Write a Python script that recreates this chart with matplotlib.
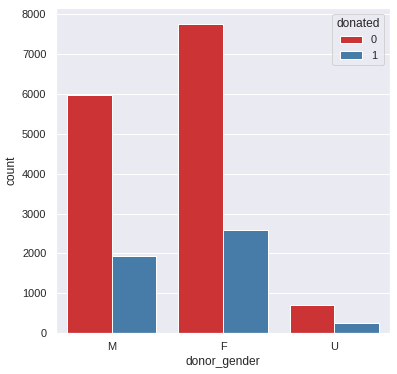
import matplotlib
matplotlib.use("Agg")
import matplotlib.pyplot as plt
import seaborn as sns
import pandas as pd

genders = ["M", "F", "U"]
count_not_donated = [5975, 7765, 705]
count_donated = [1935, 2590, 252]

df = pd.DataFrame({
    "donor_gender": genders * 2,
    "donated": ["0"] * 3 + ["1"] * 3,
    "count": count_not_donated + count_donated,
})

sns.set_theme(style="darkgrid")
plt.rcParams["font.family"] = ["Liberation Sans", "DejaVu Sans"]

fig = plt.figure(figsize=(397 / 72, 374 / 72), dpi=72)
ax = fig.add_axes([56 / 397, 1 - 333 / 374, 334 / 397, 325 / 374])
sns.barplot(data=df, x="donor_gender", y="count", hue="donated",
            palette="Set1", order=genders, hue_order=["0", "1"], ax=ax,
            edgecolor="white", linewidth=1)
ax.set_ylim(0, 8160)
ax.legend(title="donated", loc="upper right")

fig.savefig("out.png", dpi=72)
